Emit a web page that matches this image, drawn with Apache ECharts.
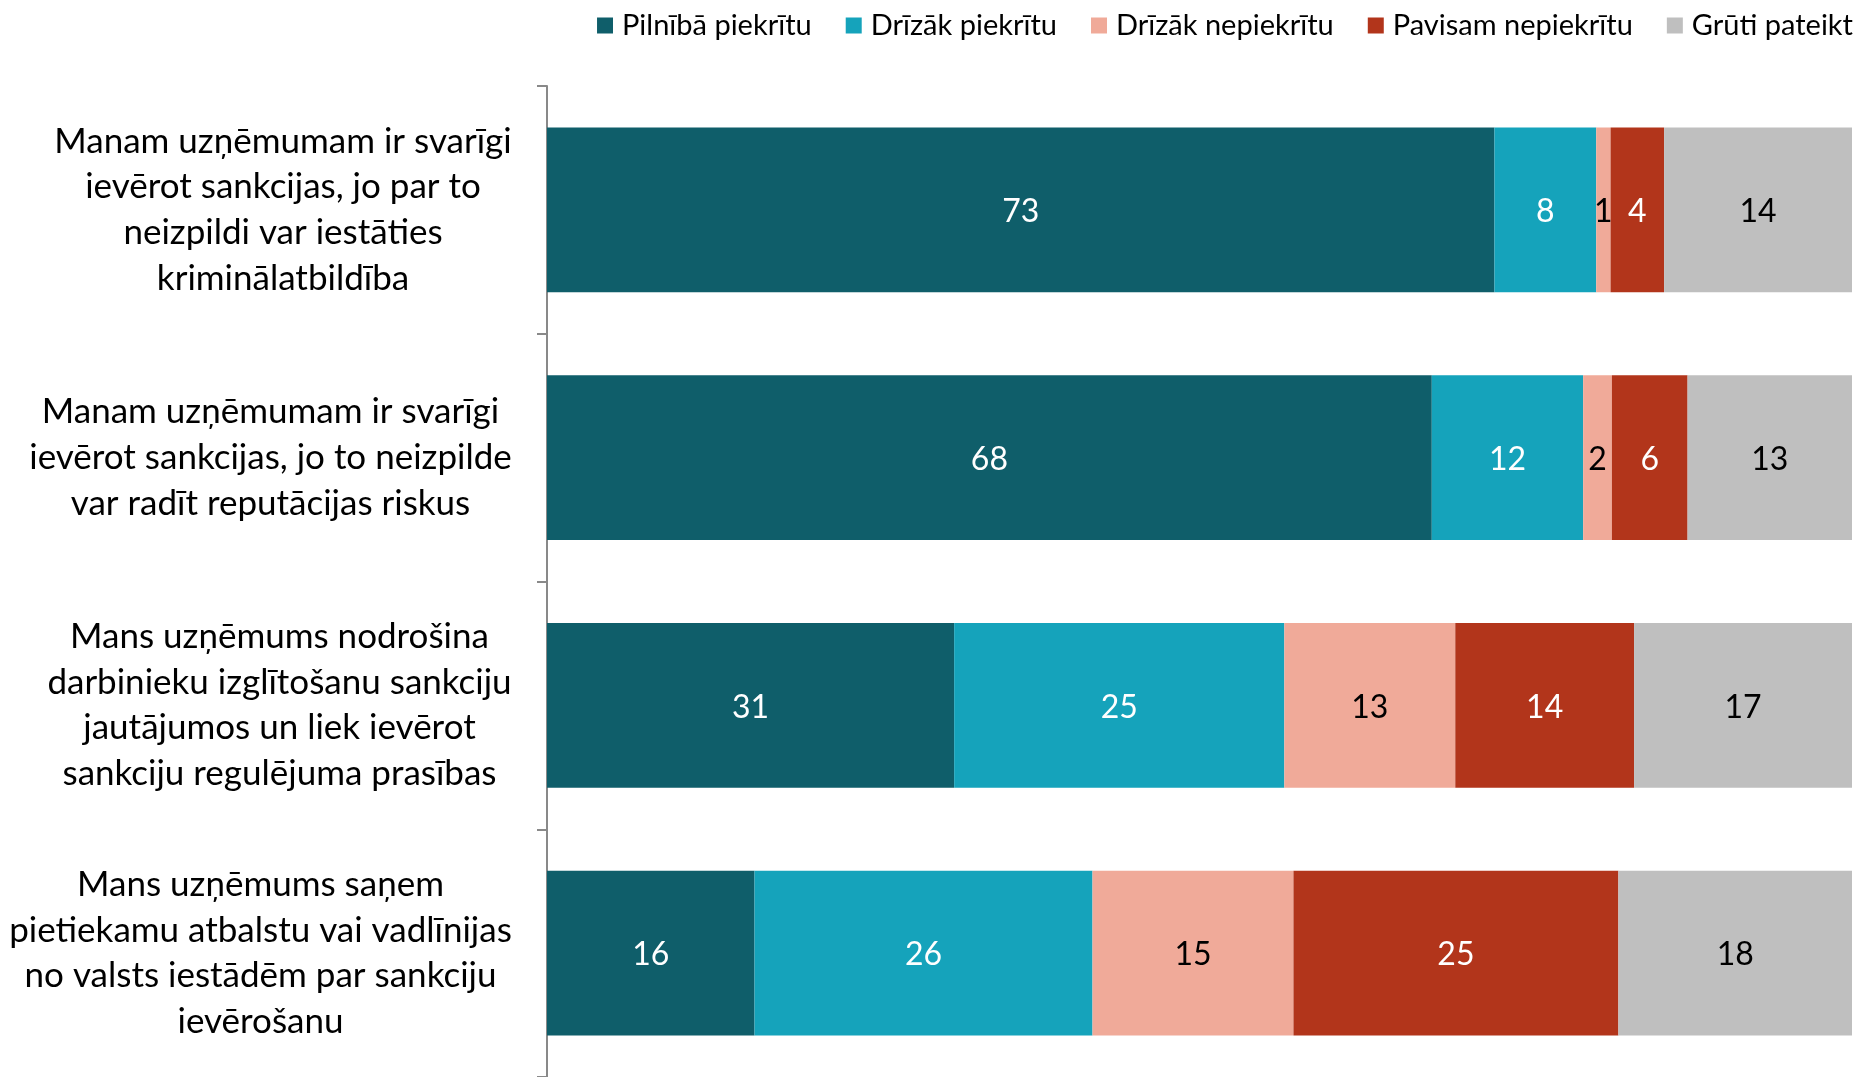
<!DOCTYPE html>
<html>
<head>
<meta charset="utf-8">
<script src="https://cdn.jsdelivr.net/npm/echarts@6/dist/echarts.min.js"></script>
<style>
  html, body { margin: 0; padding: 0; background: #fff; }
  #main { width: 1865px; height: 1077px; }
</style>
</head>
<body>
<div id="main"></div>
<script>
// kategorijas (apgalvojumi)
const categories = [
  'Manam uzņēmumam ir svarīgi\nievērot sankcijas, jo par to\nneizpildi var iestāties\nkriminālatbildība',
  'Manam uzņēmumam ir svarīgi\nievērot sankcijas, jo to neizpilde\nvar radīt reputācijas riskus',
  'Mans uzņēmums nodrošina\ndarbinieku izglītošanu sankciju\njautājumos un liek ievērot\nsankciju regulējuma prasības',
  'Mans uzņēmums saņem\npietiekamu atbalstu vai vadlīnijas\nno valsts iestādēm par sankciju\nievērošanu'
];
const seriesNames = ['Pilnībā piekrītu', 'Drīzāk piekrītu', 'Drīzāk nepiekrītu', 'Pavisam nepiekrītu', 'Grūti pateikt'];

// vērtības, %
const pilnibaPiekritu = [72.6, 67.8, 31.2, 15.9];
const drizakPiekritu = [7.8, 11.6, 25.3, 25.9];
const drizakNepiekritu = [1.1, 2.2, 13.1, 15.4];
const pavisamNepiekritu = [4.1, 5.8, 13.7, 24.9];
const grutiPateikt = [14.4, 12.6, 16.7, 17.9];

const seriesData = [pilnibaPiekritu, drizakPiekritu, drizakNepiekritu, pavisamNepiekritu, grutiPateikt];
const colors = ['#0f5e6a', '#15a3bb', '#f0aa99', '#b2351b', '#bfbfbf'];
const labelColors = ['#fff', '#fff', '#000', '#fff', '#000'];

const FONT = 'Lato';
const catFontSize = 35;

// bloka platums, lai rindas būtu centrētas, bet bloks pielīdzināts pa labi
const ctx = document.createElement('canvas').getContext('2d');
ctx.font = catFontSize + 'px ' + FONT;
const rich = {};
categories.forEach((c, i) => {
  const w = Math.max(...c.split('\n').map(l => ctx.measureText(l).width));
  rich['c' + i] = { width: Math.ceil(w), align: 'center', fontSize: catFontSize, lineHeight: 45.6, color: '#000', fontFamily: FONT };
});

const myChart = echarts.init(document.getElementById('main'));

const options = {
  animation: false,
  color: colors,
  textStyle: { fontFamily: FONT },
  legend: {
    data: seriesNames,
    top: 6,
    right: 7,
    itemWidth: 16,
    itemHeight: 16,
    itemGap: 34,
    icon: 'rect',
    textStyle: { fontSize: 29, color: '#000', padding: [0, 0, 0, 4] }
  },
  grid: {
    left: 547,
    right: 13,
    top: 86,
    bottom: 0,
    containLabel: false
  },
  xAxis: {
    type: 'value',
    min: 0,
    max: 100,
    show: false
  },
  yAxis: {
    type: 'category',
    inverse: true,
    data: categories,
    axisLine: { show: true, lineStyle: { color: '#898989', width: 2 } },
    axisTick: { show: true, inside: false, length: 10, lineStyle: { color: '#898989', width: 2 } },
    axisLabel: {
      margin: 35,
      formatter: (value, idx) => value.split('\n').map(l => '{c' + idx + '|' + l + '}').join('\n'),
      rich: rich
    }
  },
  series: seriesNames.map((name, i) => ({
    name: name,
    type: 'bar',
    stack: 'total',
    barCategoryGap: '33.5%',
    data: seriesData[i],
    label: {
      show: true,
      position: 'inside',
      color: labelColors[i],
      fontSize: 32,
      fontFamily: FONT,
      offset: [0, 2],
      formatter: p => Math.round(p.value)
    }
  }))
};

myChart.setOption(options);
</script>
</body>
</html>
